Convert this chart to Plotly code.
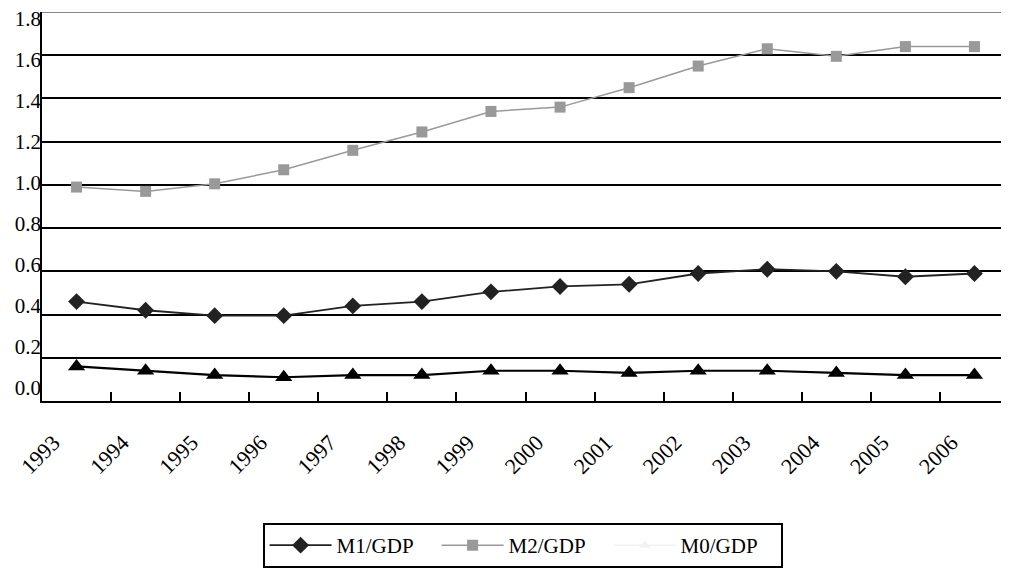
import plotly.graph_objects as go

years = ["1993", "1994", "1995", "1996", "1997", "1998", "1999", "2000",
         "2001", "2002", "2003", "2004", "2005", "2006"]
m1_gdp = [0.46, 0.42, 0.395, 0.395, 0.44, 0.46, 0.505, 0.53, 0.54, 0.59, 0.61, 0.60, 0.575, 0.59]
m2_gdp = [0.99, 0.97, 1.005, 1.07, 1.16, 1.245, 1.34, 1.36, 1.45, 1.55, 1.63, 1.595, 1.64, 1.64]
m0_gdp = [0.16, 0.14, 0.12, 0.11, 0.12, 0.12, 0.14, 0.14, 0.13, 0.14, 0.14, 0.13, 0.12, 0.12]
y_ticks = [0.0, 0.2, 0.4, 0.6, 0.8, 1.0, 1.2, 1.4, 1.6, 1.8]

font_family = "Liberation Serif, Times New Roman, serif"

fig = go.Figure()
# faint legend appearance of M0/GDP (hidden under the black series)
fig.add_trace(go.Scatter(
    x=years, y=m0_gdp, name="M0/GDP", mode="lines+markers", legendrank=3,
    line=dict(color="#f2f2f2", width=1.5),
    marker=dict(symbol="triangle-up", size=10, color="#f2f2f2"),
))
fig.add_trace(go.Scatter(
    x=years, y=m2_gdp, name="M2/GDP", mode="lines+markers", legendrank=2,
    line=dict(color="#999999", width=1.5),
    marker=dict(symbol="square", size=11, color="#999999"),
))
fig.add_trace(go.Scatter(
    x=years, y=m1_gdp, name="M1/GDP", mode="lines+markers", legendrank=1,
    line=dict(color="#222222", width=1.8),
    marker=dict(symbol="diamond", size=13, color="#222222"),
))
fig.add_trace(go.Scatter(
    x=years, y=m0_gdp, name="M0/GDP", mode="lines+markers", showlegend=False,
    line=dict(color="#000000", width=2.2),
    marker=dict(symbol="triangle-up", size=15, color="#000000"),
))

fig.update_layout(
    width=1001, height=560,
    margin=dict(l=34, r=0, t=4, b=167),
    paper_bgcolor="white", plot_bgcolor="white",
    font=dict(family=font_family, size=21, color="black"),
    legend=dict(
        orientation="h", x=0.497, xanchor="center", y=-0.315, yanchor="top",
        bordercolor="black", borderwidth=2,
        font=dict(family=font_family, size=21, color="black"),
        entrywidth=95, itemwidth=62,
    ),
)

fig.update_xaxes(
    type="category", range=[-0.5, 13.5], tickangle=-45, tickson="boundaries",
    ticks="inside", ticklen=9, tickwidth=2, tickcolor="black",
    showline=True, linecolor="black", linewidth=2, mirror=False,
    showgrid=False, tickfont=dict(family=font_family, size=22),
    ticklabelstandoff=18, ticklabelshift=-23, automargin=False,
)
# grid axis (no labels)
fig.update_layout(yaxis=dict(
    range=[0, 1.8001], tickvals=y_ticks, showticklabels=False,
    showgrid=True, gridcolor="black", gridwidth=2,
    showline=True, linecolor="black", linewidth=2,
    zeroline=False, ticks="", automargin=False,
))
# label axis: the original's labels sit on a slightly compressed scale
fig.update_layout(yaxis2=dict(
    overlaying="y", side="left", anchor="x", range=[-0.0658, 1.8318],
    tickvals=y_ticks, ticktext=[f"{v:.1f}" for v in y_ticks],
    showgrid=False, showline=False, zeroline=False, ticks="",
    tickfont=dict(family=font_family, size=21), ticklabelstandoff=0,
    ticklabeloverflow="allow", automargin=False,
))
fig.add_trace(go.Scatter(x=[years[0]], y=[None], yaxis="y2", showlegend=False,
                         hoverinfo="skip", mode="markers"))
fig.add_shape(type="line", xref="paper", yref="y", x0=0, x1=1, y0=1.8, y1=1.8,
              line=dict(color="#888888", width=2))

fig.write_html("out.html")
